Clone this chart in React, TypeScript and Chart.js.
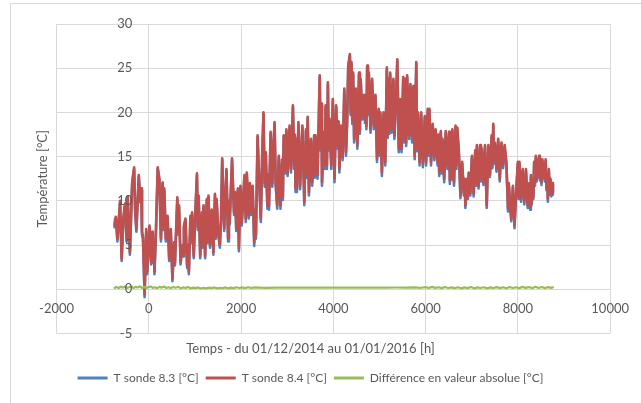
import React, { useEffect, useRef } from 'react';
import { Chart, registerables } from 'chart.js';

Chart.register(...registerables);

// Hours since 01/01/2015 (data starts 01/12/2014)
const hours = [
  -744, -730, -717, -681, -624, -590, -554, -517, -483, -458, -411, -362, -319, -298, -270, -219, -185, -164, -149, -128, -92, -57, -36,
  15, 49, 70, 85, 105, 121, 155, 192, 228, 262, 298, 316, 334, 368, 405, 441, 475, 511, 547, 565, 617, 636, 654, 688, 724, 742, 760, 794, 830, 848, 867, 901, 920, 937, 973,
  1007, 1043, 1061, 1079, 1113, 1150, 1168, 1186, 1220, 1256, 1274, 1292, 1326, 1363, 1399, 1433, 1451, 1469, 1505, 1539, 1565, 1590, 1633, 1682, 1718, 1735, 1752, 1803, 1846, 1870, 1895, 1931, 1952, 1986,
  2012, 2037, 2072, 2101, 2123, 2165, 2190, 2214, 2250, 2284, 2303, 2321, 2357, 2391, 2427, 2456, 2485, 2510, 2534, 2570, 2590, 2604, 2640, 2676, 2700, 2725, 2750, 2783, 2817, 2853, 2889, 2905, 2923, 2959, 2981,
  3008, 3051, 3081, 3123, 3150, 3165, 3180, 3195, 3210, 3242, 3279, 3300, 3328, 3370, 3406, 3425, 3443, 3470, 3513, 3541, 3583, 3598, 3613, 3656, 3704, 3722, 3741, 3753, 3796, 3815, 3832, 3860, 3881, 3900, 3917, 3954, 3988,
  4024, 4060, 4094, 4112, 4130, 4166, 4201, 4237, 4273, 4298, 4322, 4358, 4375, 4392, 4410, 4428, 4450, 4486, 4520, 4556, 4574, 4592, 4626, 4663, 4684, 4699, 4716, 4733, 4750, 4769, 4805, 4839, 4875, 4912, 4946, 4982,
  5000, 5018, 5052, 5088, 5125, 5159, 5177, 5195, 5213, 5231, 5265, 5301, 5323, 5354, 5386, 5418, 5450, 5478, 5514, 5532, 5550, 5578, 5599, 5642, 5670, 5706, 5735, 5763, 5797, 5815, 5833, 5869, 5903, 5940, 5982,
  6010, 6046, 6064, 6082, 6117, 6153, 6189, 6216, 6259, 6277, 6295, 6329, 6348, 6366, 6402, 6436, 6472, 6508, 6525, 6545, 6562, 6579, 6615, 6649, 6667, 6685, 6721, 6755, 6792, 6828, 6845, 6862, 6898, 6916, 6934, 6969,
  7004, 7041, 7075, 7093, 7111, 7147, 7181, 7200, 7217, 7253, 7287, 7324, 7360, 7394, 7430, 7448, 7466, 7484, 7501, 7537, 7573, 7607, 7643, 7679, 7713, 7750, 7786, 7803, 7820, 7856, 7892, 7926, 7962, 7999,
  8016, 8033, 8069, 8105, 8139, 8175, 8212, 8246, 8264, 8282, 8300, 8318, 8335, 8352, 8370, 8388, 8406, 8424, 8440, 8458, 8477, 8495, 8513, 8531, 8548, 8565, 8583, 8601, 8619, 8637, 8650, 8671, 8690, 8708, 8726, 8744, 8760,
];

// T sonde 8.4 [°C] (red)
const tSonde84 = [
  7.2, 8.0, 8.2, 5.7, 10.0, 3.5, 8.0, 9.7, 5.7, 10.5, 4.2, 12.1, 13.8, 9.0, 6.8, 12.9, 10.0, 11.4, 6.5, 6.0, -0.6, 6.8, 2.0,
  7.2, 3.1, 6.5, 3.3, 5.5, 2.0, 6.8, 13.8, 12.5, 5.7, 12.1, 7.0, 11.4, 5.7, 8.3, 3.5, 6.8, 1.2, 5.3, 3.0, 10.4, 6.5, 9.5, 3.1, 5.0, 4.0, 7.2, 8.0, 2.7, 5.0, 2.0, 8.3, 5.5, 8.7, 3.8,
  8.7, 13.1, 7.0, 10.6, 3.8, 8.7, 5.0, 9.5, 3.8, 10.2, 5.5, 10.6, 5.0, 9.0, 4.2, 10.8, 6.0, 10.2, 6.5, 5.0, 8.0, 14.8, 6.9, 13.6, 5.7, 10.0, 7.6, 14.8, 8.7, 11.0, 6.9, 11.4, 4.6, 11.7,
  7.5, 9.5, 12.9, 8.0, 13.2, 8.4, 12.0, 8.8, 11.7, 5.3, 9.0, 6.1, 17.4, 12.5, 8.0, 15.0, 20.0, 12.0, 15.5, 9.5, 13.0, 9.4, 17.8, 12.0, 16.0, 18.9, 12.0, 9.5, 15.1, 9.5, 14.7, 10.5, 17.4, 13.5, 18.1,
  13.2, 18.5, 13.6, 20.8, 14.0, 17.5, 11.4, 17.0, 11.4, 18.9, 11.7, 15.0, 18.5, 9.9, 18.1, 13.0, 19.5, 11.0, 17.0, 12.1, 17.4, 13.0, 17.4, 12.9, 24.2, 16.0, 21.0, 12.1, 17.8, 14.0, 20.8, 14.0, 23.4, 16.0, 19.3, 14.0, 21.5,
  12.5, 20.8, 16.3, 19.0, 13.6, 18.5, 15.0, 22.7, 15.5, 19.0, 25.3, 26.6, 20.0, 25.7, 19.0, 24.5, 17.0, 22.7, 16.3, 24.5, 18.0, 23.8, 19.6, 22.0, 19.2, 22.0, 18.5, 25.3, 20.0, 24.5, 18.1, 23.8, 18.5, 22.0, 14.8, 20.4,
  15.5, 20.0, 13.2, 20.0, 14.4, 25.1, 17.5, 23.8, 18.0, 24.5, 18.1, 23.8, 17.4, 21.0, 26.0, 15.9, 21.5, 15.9, 24.0, 17.0, 23.8, 16.6, 24.2, 17.4, 23.2, 17.0, 23.0, 15.1, 25.7, 16.0, 20.0, 14.4, 20.0, 14.2, 19.6,
  14.4, 20.4, 15.5, 20.4, 14.4, 18.7, 15.0, 18.1, 14.4, 17.5, 13.2, 17.9, 13.5, 17.0, 12.5, 17.9, 14.0, 17.8, 12.3, 17.0, 12.8, 18.1, 12.1, 18.5, 14.0, 18.3, 15.5, 10.6, 14.4, 10.9, 12.5, 9.5, 12.5, 10.5, 13.2, 10.9,
  15.1, 10.8, 15.7, 12.0, 16.3, 11.7, 16.3, 12.5, 15.9, 12.1, 16.3, 9.5, 16.3, 13.0, 17.4, 14.0, 18.7, 14.5, 16.6, 13.6, 17.0, 12.5, 16.6, 14.0, 16.3, 14.4, 9.1, 12.0, 10.6, 8.0, 11.7, 7.2, 11.0, 14.4,
  10.5, 14.4, 10.2, 13.6, 9.9, 13.6, 9.5, 12.0, 9.3, 12.9, 9.9, 11.8, 10.5, 14.4, 12.0, 15.1, 12.5, 14.6, 12.9, 15.1, 12.6, 14.3, 12.1, 14.7, 12.8, 14.2, 12.5, 14.7, 11.5, 13.0, 10.2, 13.6, 11.0, 12.5, 10.8, 12.0, 11.0,
];

// T sonde 8.3 [°C] (blue)
const tSonde83 = [
  7.0, 7.8, 8.0, 5.4, 9.8, 3.2, 7.8, 9.5, 5.4, 10.3, 3.9, 11.9, 13.6, 8.8, 6.5, 12.7, 9.8, 11.2, 6.2, 5.7, -0.9, 6.6, 1.7,
  7.0, 2.8, 6.3, 3.0, 5.3, 1.7, 6.6, 13.6, 12.3, 5.4, 11.9, 6.7, 11.2, 5.4, 8.1, 3.2, 6.6, 0.9, 5.1, 2.7, 10.2, 6.2, 9.3, 2.8, 4.8, 3.7, 7.0, 7.8, 2.4, 4.8, 1.7, 8.1, 5.2, 8.5, 3.5,
  8.5, 12.9, 6.7, 10.4, 3.5, 8.5, 4.7, 9.3, 3.5, 10.0, 5.2, 10.4, 4.7, 8.8, 3.9, 10.6, 5.7, 10.0, 6.2, 4.7, 7.8, 14.6, 6.6, 13.4, 5.4, 9.8, 7.3, 14.6, 8.4, 10.8, 6.6, 11.2, 4.3, 11.5,
  7.2, 9.3, 12.7, 7.6, 13.0, 8.0, 11.8, 8.4, 11.5, 4.9, 8.7, 5.7, 17.2, 12.2, 7.6, 14.8, 19.8, 11.6, 15.3, 9.1, 12.7, 9.0, 17.6, 11.6, 15.8, 18.7, 11.7, 9.1, 14.9, 9.1, 14.5, 10.1, 17.2, 13.1, 17.9,
  12.8, 18.3, 13.2, 20.6, 13.6, 17.3, 11.0, 16.8, 11.0, 18.7, 11.3, 14.7, 18.3, 9.5, 17.9, 12.6, 19.3, 10.6, 16.8, 11.7, 17.2, 12.6, 17.2, 12.5, 24.0, 15.7, 20.8, 11.7, 17.6, 13.6, 20.6, 13.6, 23.2, 15.7, 19.1, 13.6, 21.3,
  12.1, 20.6, 15.9, 18.8, 13.2, 18.3, 14.6, 22.5, 15.1, 18.7, 25.1, 26.4, 19.7, 25.5, 18.7, 24.3, 16.6, 22.5, 15.9, 24.3, 17.6, 23.6, 19.2, 21.8, 18.8, 21.8, 18.1, 25.1, 19.7, 24.3, 17.7, 23.6, 18.1, 21.8, 14.4, 20.2,
  15.1, 19.8, 12.8, 19.8, 14.0, 24.9, 17.1, 23.6, 17.6, 24.3, 17.7, 23.6, 17.0, 20.8, 25.8, 15.5, 21.3, 15.5, 23.8, 16.6, 23.6, 16.2, 24.0, 17.0, 23.0, 16.6, 22.8, 14.7, 25.5, 15.6, 19.8, 14.0, 19.8, 13.8, 19.4,
  14.0, 20.2, 15.1, 20.2, 14.0, 18.5, 14.6, 17.9, 14.0, 17.3, 12.8, 17.7, 13.1, 16.8, 12.1, 17.7, 13.6, 17.6, 11.9, 16.8, 12.4, 17.9, 11.7, 18.3, 13.6, 18.1, 15.2, 10.3, 14.2, 10.6, 12.3, 9.2, 12.3, 10.2, 13.0, 10.6,
  14.9, 10.5, 15.5, 11.7, 16.1, 11.4, 16.1, 12.2, 15.7, 11.8, 16.1, 9.2, 16.1, 12.7, 17.2, 13.7, 18.5, 14.2, 16.4, 13.3, 16.8, 12.2, 16.4, 13.7, 16.1, 14.1, 8.8, 11.8, 10.3, 7.7, 11.5, 6.9, 10.8, 14.2,
  10.2, 14.2, 9.9, 13.4, 9.6, 13.4, 9.2, 11.8, 9.0, 12.7, 9.6, 11.6, 10.2, 14.2, 11.7, 14.9, 12.2, 14.4, 12.6, 14.9, 12.3, 14.1, 11.8, 14.5, 12.5, 14.0, 12.2, 14.5, 11.2, 12.8, 9.9, 13.4, 10.7, 12.3, 10.5, 11.8, 10.7,
];

// Différence en valeur absolue [°C] (green)
const diffHours = [
  -744, -700, -655, -610, -560, -520, -470, -430, -380, -330, -290, -240, -190, -150, -100, -60, -10, 40, 90, 130, 180, 230, 280, 330, 380,
  430, 480, 530, 580, 640, 690, 740, 800, 850, 900, 960, 1010, 1070, 1130, 1180, 1240, 1300, 1360, 1420, 1480, 1540, 1600, 1660, 1720,
  1780, 1840, 1900, 1960, 2020, 2080, 2150, 2220, 2300, 2400, 2550, 2750, 2950, 3150, 3350, 3550, 3750, 3950, 4150, 4350, 4550, 4750,
  4950, 5150, 5350, 5550, 5750, 5900, 6000, 6070, 6140, 6210, 6280, 6350, 6420, 6490, 6560, 6630, 6700, 6770, 6840, 6910, 6980, 7050,
  7120, 7190, 7260, 7330, 7400, 7470, 7540, 7610, 7680, 7750, 7820, 7890, 7960, 8030, 8100, 8170, 8240, 8310, 8380, 8450, 8520, 8590,
  8660, 8720, 8760,
];
const diffValues = [
  0.15, 0.25, 0.12, 0.28, 0.18, 0.3, 0.14, 0.22, 0.3, 0.12, 0.26, 0.2, 0.32, 0.14, 0.28, 0.1, 0.24, 0.3, 0.15, 0.22, 0.12, 0.26, 0.18, 0.3, 0.14,
  0.22, 0.12, 0.25, 0.16, 0.27, 0.1, 0.2, 0.15, 0.24, 0.1, 0.18, 0.12, 0.2, 0.08, 0.16, 0.1, 0.18, 0.12, 0.2, 0.1, 0.16, 0.12, 0.2, 0.1,
  0.18, 0.12, 0.22, 0.14, 0.2, 0.12, 0.22, 0.15, 0.2, 0.18, 0.16, 0.18, 0.17, 0.19, 0.17, 0.18, 0.19, 0.17, 0.18, 0.18, 0.17, 0.19,
  0.17, 0.18, 0.19, 0.18, 0.2, 0.16, 0.24, 0.14, 0.26, 0.15, 0.22, 0.12, 0.25, 0.14, 0.2, 0.12, 0.22, 0.1, 0.2, 0.12, 0.24, 0.1,
  0.2, 0.14, 0.22, 0.1, 0.2, 0.13, 0.24, 0.12, 0.22, 0.1, 0.25, 0.14, 0.22, 0.12, 0.26, 0.15, 0.24, 0.12, 0.28, 0.14, 0.25, 0.12,
  0.24, 0.15, 0.2,
];

const seriesLabels = ['T sonde 8.3 [°C]', 'T sonde 8.4 [°C]', 'Différence en valeur absolue [°C]'];
const seriesColors = ['#4F81BD', '#C0504D', '#9BBB59'];

const xTitle = 'Temps - du 01/12/2014 au 01/01/2016 [h]';
const yTitle = 'Température [°C]';

const FONT = 'Lato, "Open Sans", sans-serif';
const TEXT = '#595959';
const GRID = '#D9D9D9';

export default function App() {
  const ref = useRef<HTMLCanvasElement | null>(null);

  useEffect(() => {
    if (!ref.current) return;
    const mk = (xs: number[], ys: number[]) => xs.map((x, i) => ({ x, y: ys[i] }));
    const lineDs = (i: number, data: { x: number; y: number }[], order: number, width: number) => ({
      label: seriesLabels[i],
      data,
      borderColor: seriesColors[i],
      backgroundColor: seriesColors[i],
      borderWidth: width,
      borderJoinStyle: 'round' as const,
      borderCapStyle: 'round' as const,
      pointRadius: 0,
      pointHoverRadius: 0,
      pointHitRadius: 0,
      pointStyle: 'line' as const,
      pointBorderColor: seriesColors[i],
      pointBorderWidth: 3,
      tension: 0,
      order,
      xAxisID: 'x',
      yAxisID: 'y',
    });
    const chart = new Chart(ref.current, {
      type: 'line',
      data: {
        datasets: [
          lineDs(0, mk(hours, tSonde83), 3, 2.6),
          lineDs(1, mk(hours, tSonde84), 2, 2.6),
          lineDs(2, mk(diffHours, diffValues), 1, 2.2),
        ],
      },
      options: {
        animation: false,
        responsive: true,
        maintainAspectRatio: false,
        events: [],
        layout: { padding: { left: 0, right: 20, top: 24, bottom: 9 } },
        scales: {
          x: {
            type: 'linear',
            position: { y: 0 } as any,
            min: -2000,
            max: 10000,
            ticks: {
              stepSize: 2000,
              autoSkip: false,
              maxRotation: 0,
              padding: 12,
              z: 1,
              color: TEXT,
              font: { family: FONT, size: 13 },
              callback: (v: any) => String(v),
            },
            grid: { color: GRID, lineWidth: 1, drawTicks: false },
            border: { display: false },
          },
          y: {
            type: 'linear',
            position: { x: 0 } as any,
            min: -5,
            max: 30,
            ticks: {
              stepSize: 5,
              z: 1,
              color: TEXT,
              font: { family: FONT, size: 13 },
              callback: (v: any) => `${v}     `,
            },
            grid: { color: GRID, lineWidth: 1, drawTicks: false },
            border: { display: false },
          },
          yTitle: {
            type: 'linear',
            position: 'left',
            display: true,
            ticks: { display: false },
            grid: { display: false, drawTicks: false },
            border: { display: false },
            title: {
              display: true,
              text: yTitle,
              color: TEXT,
              font: { family: FONT, size: 13 },
              padding: { top: 35, bottom: 6 },
            },
          },
        },
        plugins: {
          legend: {
            position: 'bottom',
            reverse: true,
            labels: {
              usePointStyle: true,
              pointStyleWidth: 30,
              color: TEXT,
              font: { family: FONT, size: 12 },
              padding: 7,
            },
          },
          title: {
            display: true,
            position: 'bottom',
            text: xTitle,
            color: TEXT,
            font: { family: FONT, size: 13, weight: 'normal' },
            padding: { top: 8, bottom: 8 },
            weight: 500,
          } as any,
          tooltip: { enabled: false },
        },
      } as any,
    });
    return () => chart.destroy();
  }, []);

  return (
    <>
      <div
        style={{
          position: 'fixed',
          left: 10,
          top: 3,
          right: 0,
          bottom: 0,
          borderLeft: '1px solid #D9D9D9',
          borderTop: '1px solid #D9D9D9',
        }}
      />
      <div style={{ position: 'fixed', left: 0, top: 0, width: 641, height: 403 }}>
        <canvas ref={ref} />
      </div>
    </>
  );
}
